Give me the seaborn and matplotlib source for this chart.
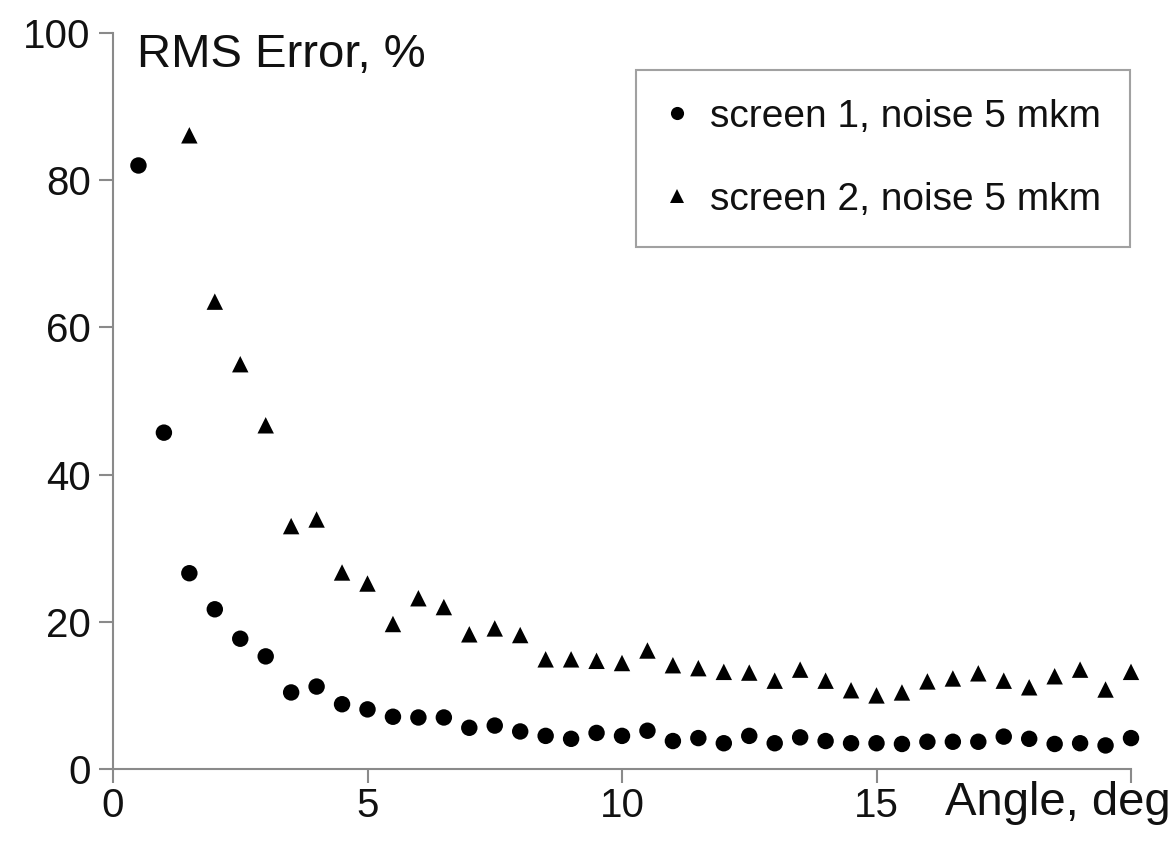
import matplotlib
matplotlib.use("Agg")
import matplotlib.pyplot as plt
import seaborn as sns
import pandas as pd

# ---- data ----
angles = [0.5, 1.0, 1.5, 2.0, 2.5, 3.0, 3.5, 4.0, 4.5, 5.0,
          5.5, 6.0, 6.5, 7.0, 7.5, 8.0, 8.5, 9.0, 9.5, 10.0,
          10.5, 11.0, 11.5, 12.0, 12.5, 13.0, 13.5, 14.0, 14.5, 15.0,
          15.5, 16.0, 16.5, 17.0, 17.5, 18.0, 18.5, 19.0, 19.5, 20.0]
screen1_err = [82.0, 45.7, 26.6, 21.7, 17.7, 15.3, 10.4, 11.2, 8.8, 8.1,
               7.1, 7.0, 7.0, 5.6, 5.9, 5.1, 4.5, 4.1, 4.9, 4.5,
               5.2, 3.8, 4.2, 3.5, 4.5, 3.5, 4.3, 3.8, 3.5, 3.5,
               3.4, 3.7, 3.7, 3.7, 4.4, 4.1, 3.4, 3.5, 3.2, 4.2]
screen2_err = [None, None, 86.1, 63.5, 55.0, 46.7, 33.0, 33.9, 26.7, 25.2,
               19.7, 23.2, 22.0, 18.3, 19.1, 18.2, 14.9, 14.9, 14.7, 14.4,
               16.1, 14.1, 13.7, 13.2, 13.1, 12.0, 13.5, 12.0, 10.7, 10.0,
               10.4, 11.9, 12.3, 13.0, 12.0, 11.1, 12.6, 13.5, 10.8, 13.2]
series_names = ["screen 1, noise 5 mkm", "screen 2, noise 5 mkm"]
x_ticks = [0, 5, 10, 15, 20]
x_tick_labels = ["0", "5", "10", "15", ""]
y_ticks = [0, 20, 40, 60, 80, 100]
y_label = "RMS Error, %"
x_label = "Angle, deg"

rows = []
for a, v in zip(angles, screen1_err):
    rows.append({"angle": a, "err": v, "series": series_names[0]})
for a, v in zip(angles, screen2_err):
    if v is not None:
        rows.append({"angle": a, "err": v, "series": series_names[1]})
df = pd.DataFrame(rows)

sns.set_style("white")
plt.rcParams["font.family"] = ["Liberation Sans", "DejaVu Sans"]

W, H = 1176, 852
fig = plt.figure(figsize=(W / 100, H / 100), dpi=100)
ax = fig.add_axes([113 / W, 1 - 769 / H, (1131 - 113) / W, (769 - 33) / H])

sns.scatterplot(data=df, x="angle", y="err", style="series",
                markers={series_names[0]: "o", series_names[1]: "^"},
                color="black", s=140, linewidth=0, edgecolor="none",
                ax=ax, legend=True, clip_on=False, zorder=3)

ax.set_xlim(0, 20)
ax.set_ylim(0, 100)
ax.set_xticks(x_ticks)
ax.set_xticklabels(x_tick_labels)
ax.set_yticks(y_ticks)
ax.set_xlabel("")
ax.set_ylabel("")

spine_col = "#8a8a8a"
for side in ["top", "right"]:
    ax.spines[side].set_visible(False)
for side in ["left", "bottom"]:
    ax.spines[side].set_color(spine_col)
    ax.spines[side].set_linewidth(1.5)
ax.tick_params(axis="both", direction="out", length=10, width=1.5,
               color=spine_col, labelcolor="#111111", labelsize=29)
ax.tick_params(axis="x", pad=3)
ax.tick_params(axis="y", pad=6)
ax.tick_params(bottom=True, left=True)

handles, labels = ax.get_legend_handles_labels()
leg = ax.legend(handles, labels, loc="upper right",
                bbox_to_anchor=(0.999, 0.95), frameon=True, fancybox=False,
                fontsize=28, markerscale=0.8, handlelength=0.6,
                handletextpad=0.55, labelspacing=1.2, borderpad=0.75,
                borderaxespad=0)
leg.get_frame().set_edgecolor(spine_col)
leg.get_frame().set_linewidth(1.5)
for t in leg.get_texts():
    t.set_color("#111111")

fig.text(137 / W, 1 - 67 / H, y_label, fontsize=34, color="#111111",
         ha="left", va="baseline")
fig.text(945 / W, 1 - 815 / H, x_label, fontsize=34, color="#111111",
         ha="left", va="baseline")

fig.savefig("out.png", dpi=100, facecolor="white")
